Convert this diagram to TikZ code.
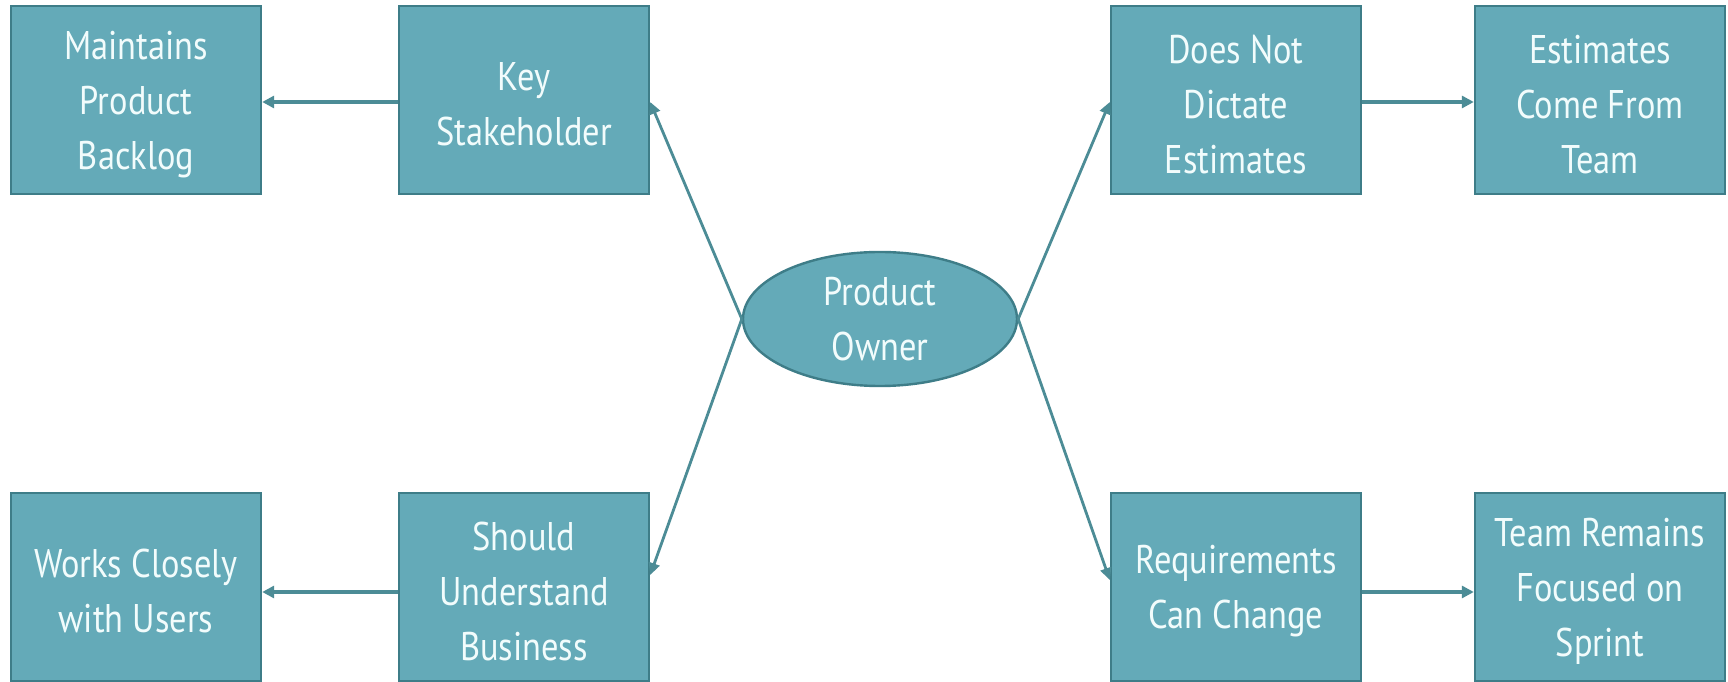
\documentclass[tikz,border=0pt]{standalone}
\usepackage{fontspec}
\setmainfont{PT Sans}[FakeStretch=0.86]
\usetikzlibrary{shapes.geometric,arrows.meta,calc}
\definecolor{boxfill}{HTML}{64AAB8}
\definecolor{boxline}{HTML}{3E7D88}
\definecolor{linkcol}{HTML}{4C8C96}
\definecolor{txtcol}{HTML}{F2FCFC}
\tikzset{
  ideatext/.style={text=txtcol, align=center, inner sep=0pt,
    font=\fontsize{40}{55}\selectfont},
  % box with its caption set slightly below the centre
  idea/.style={rectangle, draw=boxline, line width=2.4pt, fill=boxfill,
    minimum width=250pt, minimum height=188pt, inner sep=0pt,
    label={[ideatext, yshift=-4.5pt]center:#1}},
  hub/.style={ellipse, draw=boxline, line width=2.4pt, fill=boxfill,
    minimum width=274pt, minimum height=134pt, inner sep=0pt,
    text=txtcol, align=center,
    font=\fontsize{40}{55}\selectfont},
  link/.style={draw=linkcol, line width=3.6pt,
    -{Triangle[length=12pt,width=12pt]}},
  spoke/.style={draw=linkcol, line width=2.8pt,
    -{Triangle[length=12pt,width=11pt]}}
}
\begin{document}
\begin{tikzpicture}[x=1pt,y=1pt]
\useasboundingbox (0,0) rectangle (1728,682);
\fill[white] (0,0) rectangle (1728,682);

% central topic
\node[hub] (po) at (880,363) {Product\\Owner};

% upper row
\node[idea={Maintains\\Product\\Backlog}] (mpb) at (136,582) {};
\node[idea={Key\\Stakeholder}] (ks) at (524,582) {};
\node[idea={Does Not\\Dictate\\Estimates}] (dnd) at (1236,582) {};
\node[idea={Estimates\\Come From\\Team}] (ecf) at (1600,582) {};

% lower row
\node[idea={Works Closely\\with Users}] (wcu) at (136,95) {};
\node[idea={Should\\Understand\\Business}] (sub) at (524,95) {};
\node[idea={Requirements\\Can Change}] (rcc) at (1236,95) {};
\node[idea={Team Remains\\Focused on\\Sprint}] (trf) at (1600,95) {};

% spokes from the hub
\draw[spoke] (po.west) -- ([yshift=-2pt]ks.east);
\draw[spoke] (po.west) -- ([yshift=12pt]sub.east);
\draw[spoke] (po.east) -- ([yshift=-2pt]dnd.west);
\draw[spoke] (po.east) -- ([yshift=7pt]rcc.west);

% horizontal links
\draw[link] ([yshift=-2pt]ks.west) -- ([yshift=-2pt]mpb.east);
\draw[link] ([yshift=-5pt]sub.west) -- ([yshift=-5pt]wcu.east);
\draw[link] ([yshift=-2pt]dnd.east) -- ([yshift=-2pt]ecf.west);
\draw[link] ([yshift=-5pt]rcc.east) -- ([yshift=-5pt]trf.west);
\end{tikzpicture}
\end{document}
